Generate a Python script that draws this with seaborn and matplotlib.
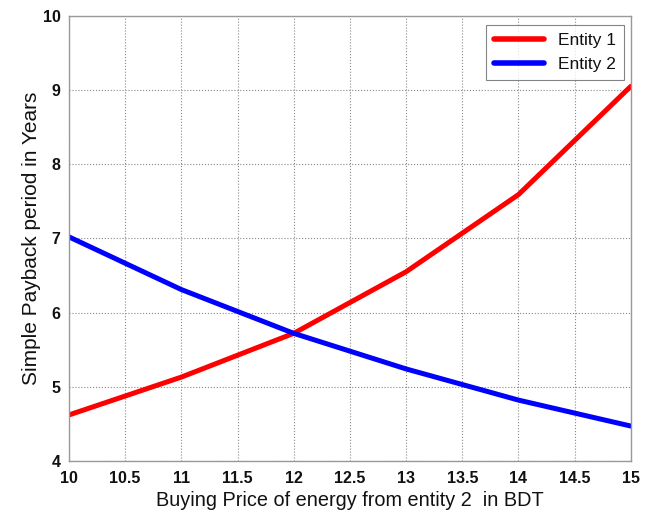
import pandas as pd
import seaborn as sns
import matplotlib.pyplot as plt

price = [10, 11, 12, 13, 14, 15]
entity1 = [4.62, 5.13, 5.72, 6.55, 7.59, 9.05]
entity2 = [7.02, 6.31, 5.72, 5.24, 4.82, 4.47]

df = pd.DataFrame({
    'price': price * 2,
    'payback': entity1 + entity2,
    'entity': ['Entity 1'] * len(price) + ['Entity 2'] * len(price),
})

sns.set_style('white')
plt.rcParams['font.family'] = ['Liberation Sans', 'DejaVu Sans']

fig = plt.figure(figsize=(6.51, 5.11), dpi=100)
ax = fig.add_axes([0.106, 0.098, 0.863, 0.871])

sns.lineplot(data=df, x='price', y='payback', hue='entity',
             palette={'Entity 1': '#ff0000', 'Entity 2': '#0000ff'},
             linewidth=3.6, ax=ax)

ax.set_xlim(10, 15)
ax.set_ylim(4, 10)
ax.set_xticks([10, 10.5, 11, 11.5, 12, 12.5, 13, 13.5, 14, 14.5, 15])
ax.set_xticklabels(['10', '10.5', '11', '11.5', '12', '12.5', '13', '13.5', '14', '14.5', '15'])
ax.set_yticks([4, 5, 6, 7, 8, 9, 10])
ax.grid(True, linestyle=':', color='#888888', linewidth=0.8)
ax.tick_params(axis='both', labelsize=11.5, length=0, colors='#111111')
ax.tick_params(axis='x', pad=7)
ax.tick_params(axis='y', pad=6)
for lab in ax.get_xticklabels() + ax.get_yticklabels():
    lab.set_fontweight('bold')
for sp in ax.spines.values():
    sp.set_color('#999999')
    sp.set_linewidth(1.0)

ax.set_xlabel('Buying Price of energy from entity 2  in BDT', fontsize=14.3,
              labelpad=4, color='#111111')
ax.set_ylabel('Simple Payback period in Years', fontsize=15, labelpad=1,
              color='#111111')

leg = ax.legend(loc='upper right', fontsize=12.5, frameon=True, fancybox=False,
                edgecolor='#666666', handlelength=2.9, borderpad=0.45,
                labelspacing=0.55, borderaxespad=0,
                bbox_to_anchor=(0.9875, 0.98))
leg.get_frame().set_linewidth(0.8)
for line in leg.get_lines():
    line.set_linewidth(4)
for t in leg.get_texts():
    t.set_color('#111111')

fig.savefig('out.png', dpi=100)
